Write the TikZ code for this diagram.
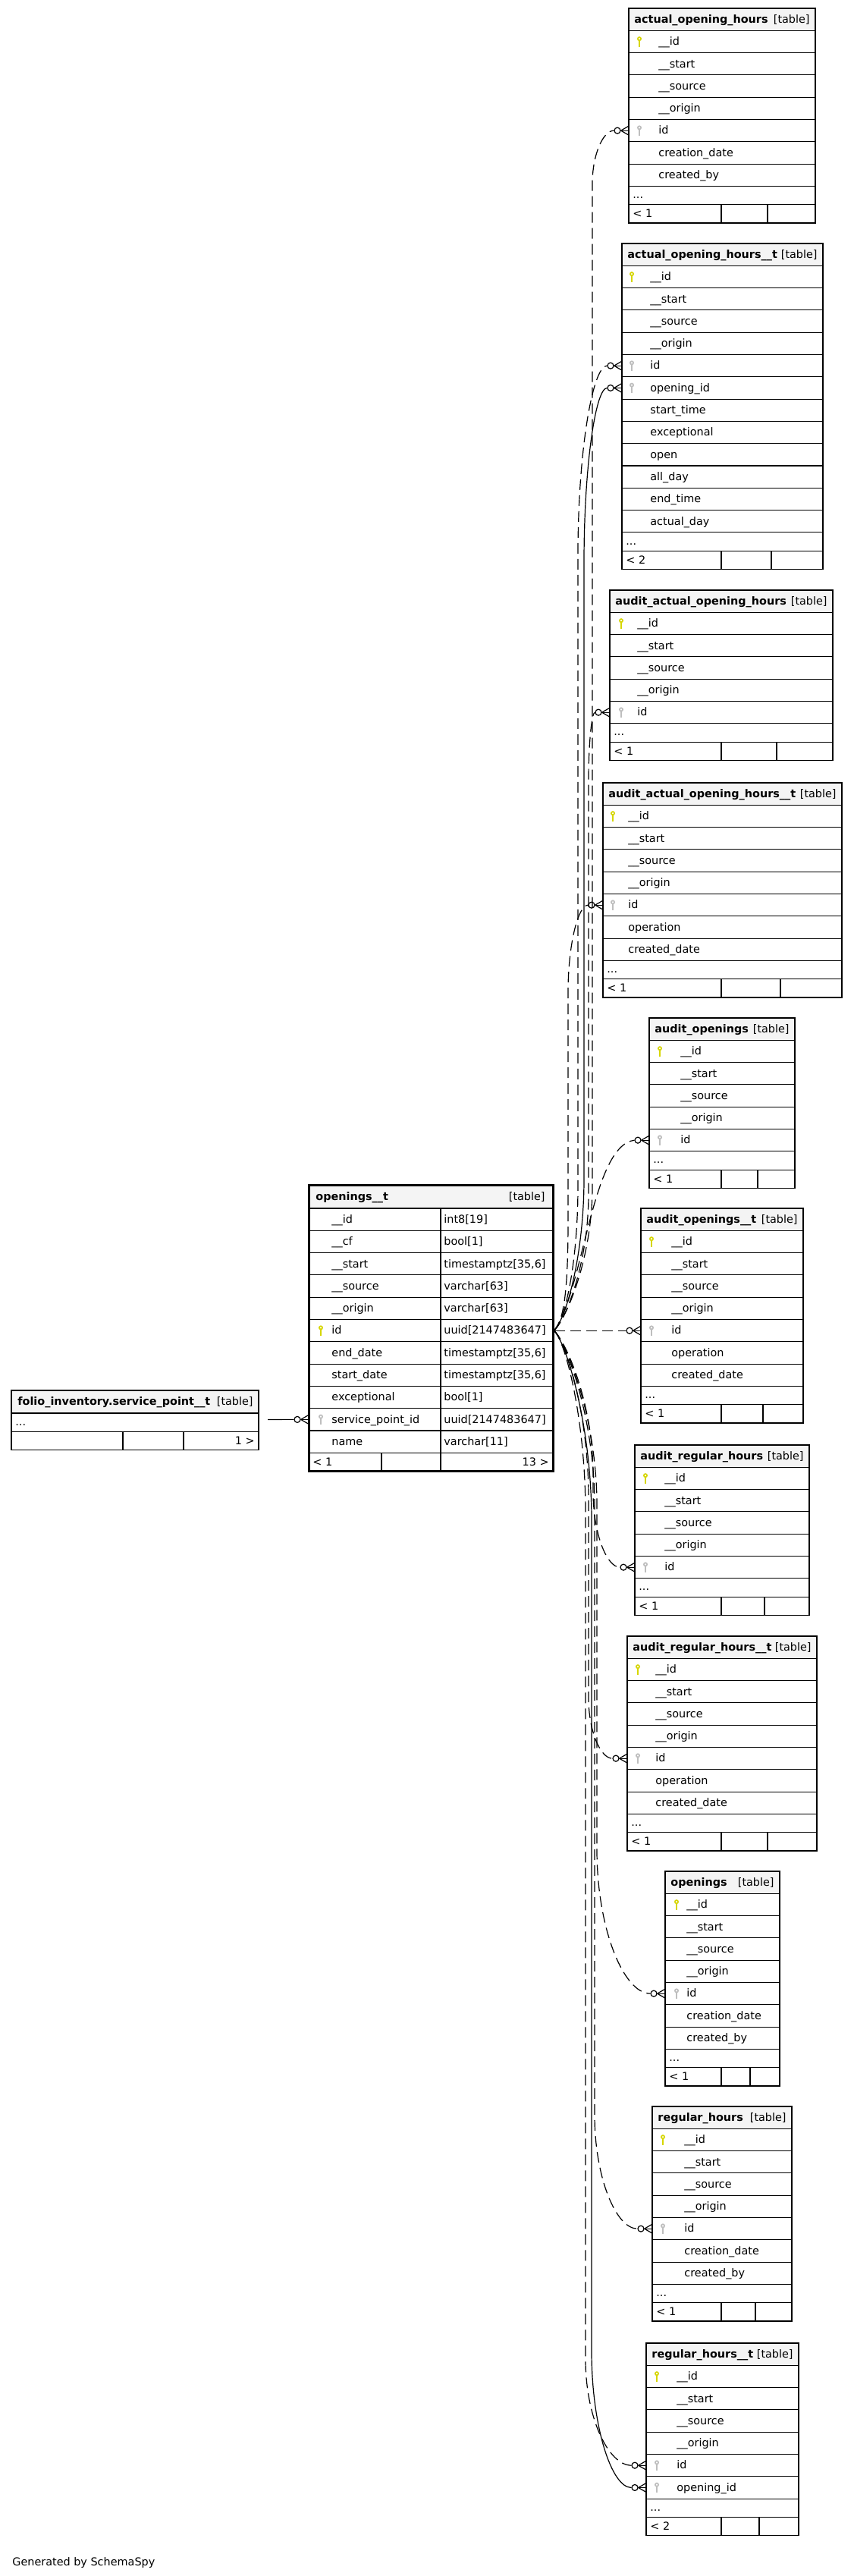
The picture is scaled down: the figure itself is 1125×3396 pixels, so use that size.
\documentclass[tikz,border=0pt]{standalone}
\usepackage{fontspec}
\setmainfont{DejaVu Sans}
\usetikzlibrary{calc}
\definecolor{hdrgray}{RGB}{244,244,244}
\definecolor{keyyellow}{RGB}{214,214,0}
\definecolor{keygray}{RGB}{190,190,190}
\newcommand\fs{\fontsize{7.2}{8.6}\selectfont}
\tikzset{
 cell/.style={draw=black, line width=0.55pt, fill=white, inner sep=0pt, outer sep=0pt, anchor=north west, minimum height=14.65pt},
 hdr/.style={cell, fill=hdrgray},
 dotrow/.style={cell, minimum height=12.15pt},
 txt/.style={inner sep=0pt, anchor=base west, font=\fs},
 ttl/.style={inner sep=0pt, anchor=base west, font=\fs\bfseries},
 edgeline/.style={line width=0.6pt, black},
 fk/.style={edgeline, dash pattern=on 7pt off 3.5pt},
 endc/.style={circle, draw=black, fill=white, line width=0.6pt, minimum size=4pt, inner sep=0pt},
}
\newcommand\drawkey[3]{%
 \draw[#1, line width=0.85pt] ($(#2.west)+(#3,-3.8)$) circle (1.05pt);
 \draw[#1, line width=1.0pt] ($(#2.west)+(#3,-1.6)$) -- ($(#2.west)+(#3,7)$);
}
\newcommand\keyicon[3]{%
 \if p#1\drawkey{keyyellow}{#2}{#3}\fi
 \if f#1\drawkey{keygray}{#2}{#3}\fi}
% prefix, left, top, width, key offset, text offset, title, rows
\newcommand\dbtable[8]{%
 \node[hdr, minimum width={#4*0.5pt}] (#1-h) at (#2,#3) {};
 \node[ttl] (#1-ht) at ($(#1-h.west)+(7,4.8)$) {#7};
 \node[txt, anchor=base east] (#1-hl) at ($(#1-h.east)+(-7,4.8)$) {[table]};
 \foreach \kk/\tname [count=\i] in {#8} {%
   \node[cell, minimum width={#4*0.5pt}] (#1-r\i) at (#2,{#3+29.3*\i}) {};
   \node[txt] (#1-t\i) at ($(#1-r\i.west)+(#6,4.8)$) {\tname};
   \keyicon{\kk}{#1-r\i}{#5}%
 }%
}
% prefix, left, dots top, right, s1, s2, left text, right text
\newcommand\dbfoot[8]{%
 \node[dotrow, minimum width={(#4-#2)*0.5pt}] (#1-d) at (#2,#3) {};
 \node[txt] (#1-dt) at ($(#1-d.west)+(5,4)$) {...};
 \node[dotrow, minimum width={(#5-#2)*0.5pt}] (#1-f1) at (#2,{#3+24.3}) {};
 \node[dotrow, minimum width={(#6-#5)*0.5pt}] (#1-f2) at (#5,{#3+24.3}) {};
 \node[dotrow, minimum width={(#4-#6)*0.5pt}] (#1-f3) at (#6,{#3+24.3}) {};
 \node[txt] (#1-fl) at ($(#1-f1.west)+(5,4.8)$) {#7};
 \node[txt, anchor=base east] (#1-fr) at ($(#1-f3.east)+(-5,4.8)$) {#8};
}
\newcommand\fkmark[2]{% circle name, row node
 \node[endc] (#1) at ($(#2.west)+(-15,0)$) {};
 \draw[edgeline] (#1.east) -- ($(#2.west)+(0,-6)$);
 \draw[edgeline] (#1.east) -- (#2.west);
 \draw[edgeline] (#1.east) -- ($(#2.west)+(0,6)$);
}
% style, circle, cx, ty, dir, L, B
\newcommand\fan[7]{%
 \draw[#1] (src) .. controls +(16,{16*#5}) and +(0,{-0.5*#7*#5}) .. (#3,{1754.15+#7*#5})
   -- (#3,{#4-#6*#5}) .. controls +(0,{0.55*#6*#5}) and ($(#2.west)!0.5!(#3,#4)$) .. (#2.west);
}
\begin{document}
\begin{tikzpicture}[x=0.5pt,y=-0.5pt]
\fill[white] (0,0) rectangle (1125,3396);
\useasboundingbox (0,0) rectangle (1125,3396);

\dbtable{a1}{829}{11}{246}{14}{39}{actual\_opening\_hours}{p/\_\_id,n/\_\_start,n/\_\_source,n/\_\_origin,f/id,n/creation\_date,n/created\_by}
\dbfoot{a1}{829}{245.4}{1075}{951}{1012}{< 1}{}

\dbtable{a2}{820}{321}{265}{13}{37}{actual\_opening\_hours\_\_t}{p/\_\_id,n/\_\_start,n/\_\_source,n/\_\_origin,f/id,f/opening\_id,n/start\_time,n/exceptional,n/open,n/all\_day,n/end\_time,n/actual\_day}
\dbfoot{a2}{820}{701.9}{1085}{951}{1017}{< 2}{}

\dbtable{a3}{804}{778}{294}{15}{36}{audit\_actual\_opening\_hours}{p/\_\_id,n/\_\_start,n/\_\_source,n/\_\_origin,f/id}
\dbfoot{a3}{804}{953.8}{1098}{951}{1024}{< 1}{}

\dbtable{a4}{795}{1032}{315}{13}{33}{audit\_actual\_opening\_hours\_\_t}{p/\_\_id,n/\_\_start,n/\_\_source,n/\_\_origin,f/id,n/operation,n/created\_date}
\dbfoot{a4}{795}{1266.4}{1110}{951}{1029}{< 1}{}

\dbtable{a5}{856}{1342}{192}{14}{41}{audit\_openings}{p/\_\_id,n/\_\_start,n/\_\_source,n/\_\_origin,f/id}
\dbfoot{a5}{856}{1517.8}{1048}{951}{999}{< 1}{}

\dbtable{a6}{845}{1593}{214}{14}{40}{audit\_openings\_\_t}{p/\_\_id,n/\_\_start,n/\_\_source,n/\_\_origin,f/id,n/operation,n/created\_date}
\dbfoot{a6}{845}{1827.4}{1059}{951}{1006}{< 1}{}

\dbtable{a7}{837}{1905}{230}{14}{39}{audit\_regular\_hours}{p/\_\_id,n/\_\_start,n/\_\_source,n/\_\_origin,f/id}
\dbfoot{a7}{837}{2080.8}{1067}{951}{1008}{< 1}{}

\dbtable{a8}{827}{2157}{250}{14}{37}{audit\_regular\_hours\_\_t}{p/\_\_id,n/\_\_start,n/\_\_source,n/\_\_origin,f/id,n/operation,n/created\_date}
\dbfoot{a8}{827}{2391.4}{1077}{951}{1012}{< 1}{}

\dbtable{a9}{877}{2467}{151}{15}{28}{openings}{p/\_\_id,n/\_\_start,n/\_\_source,n/\_\_origin,f/id,n/creation\_date,n/created\_by}
\dbfoot{a9}{877}{2701.4}{1028}{951}{989}{< 1}{}

\dbtable{a10}{860}{2777}{184}{14}{42}{regular\_hours}{p/\_\_id,n/\_\_start,n/\_\_source,n/\_\_origin,f/id,n/creation\_date,n/created\_by}
\dbfoot{a10}{860}{3011.4}{1044}{951}{996}{< 1}{}

\dbtable{a11}{852}{3089}{201}{14}{40}{regular\_hours\_\_t}{p/\_\_id,n/\_\_start,n/\_\_source,n/\_\_origin,f/id,f/opening\_id}
\dbfoot{a11}{852}{3294.1}{1053}{951}{1001}{< 2}{}

% central table openings__t
\node[hdr, minimum width=161pt, minimum height=15.5pt] (ot-h) at (407,1562) {};
\node[ttl] (ot-ht) at ($(ot-h.west)+(9,4.8)$) {openings\_\_t};
\node[txt, anchor=base east] (ot-hl) at ($(ot-h.east)+(-10,4.8)$) {[table]};
\foreach \kk/\nm/\ty [count=\i] in {n/\_\_id/int8[19],n/\_\_cf/bool[1],n/\_\_start/{timestamptz[35,6]},n/\_\_source/varchar[63],n/\_\_origin/varchar[63],p/id/uuid[2147483647],n/end\_date/{timestamptz[35,6]},n/start\_date/{timestamptz[35,6]},n/exceptional/bool[1],f/service\_point\_id/uuid[2147483647],n/name/varchar[11]} {%
  \node[cell, minimum width=87pt] (ot-n\i) at (407,{1593+29.3*(\i-1)}) {};
  \node[cell, minimum width=74pt] (ot-y\i) at (581,{1593+29.3*(\i-1)}) {};
  \node[txt] (ot-tn\i) at ($(ot-n\i.west)+(30,4.8)$) {\nm};
  \node[txt] (ot-ty\i) at ($(ot-y\i.west)+(4,4.8)$) {\ty};
  \keyicon{\kk}{ot-n\i}{16}%
}
\node[dotrow, minimum width=48pt] (ot-f1) at (407,1915.3) {};
\node[dotrow, minimum width=39pt] (ot-f2) at (503,1915.3) {};
\node[dotrow, minimum width=74pt] (ot-f3) at (581,1915.3) {};
\node[txt] (ot-fl) at ($(ot-f1.west)+(5,4.8)$) {< 1};
\node[txt, anchor=base east] (ot-fr) at ($(ot-f3.east)+(-5,4.8)$) {13 >};
\draw[line width=1.5pt] (ot-h.north west) rectangle (ot-f3.south east);

% service point table
\node[hdr, minimum width=163pt, minimum height=15pt] (sp-h) at (15,1833) {};
\node[ttl] (sp-ht) at ($(sp-h.west)+(8,4.8)$) {folio\_inventory.service\_point\_\_t};
\node[txt, anchor=base east] (sp-hl) at ($(sp-h.east)+(-7,4.8)$) {[table]};
\dbfoot{sp}{15}{1863}{341}{162}{242}{}{1 >}

% end marks
\fkmark{c1}{a1-r5}
\fkmark{c2}{a2-r5}
\fkmark{c3}{a2-r6}
\fkmark{c4}{a3-r5}
\fkmark{c5}{a4-r5}
\fkmark{c6}{a5-r5}
\fkmark{c7}{a6-r5}
\fkmark{c8}{a7-r5}
\fkmark{c9}{a8-r5}
\fkmark{c10}{a9-r5}
\fkmark{c11}{a10-r5}
\fkmark{c12}{a11-r5}
\fkmark{c13}{a11-r6}
\fkmark{csp}{ot-n10}

% connectors
\coordinate (src) at ([xshift=0.8pt]ot-y6.east);
\fan{fk}{c1}{781}{172.15}{-1}{70}{190}
\fan{fk}{c2}{762}{482.15}{-1}{250}{190}
\fan{edgeline}{c3}{770}{511.45}{-1}{230}{200}
\fan{fk}{c4}{776}{939.15}{-1}{90}{180}
\fan{fk}{c5}{749}{1193.15}{-1}{115}{150}
\draw[fk] (src) .. controls (770,1700) and (780,1510) .. (c6.west);
\draw[fk] (src) -- (c7.west);
\fan{fk}{c8}{782}{2066.15}{1}{100}{190}
\fan{fk}{c9}{776}{2318.15}{1}{80}{220}
\fan{fk}{c10}{787}{2628.15}{1}{190}{230}
\fan{fk}{c11}{784}{2938.15}{1}{150}{230}
\fan{fk}{c12}{772}{3250.15}{1}{140}{240}
\fan{edgeline}{c13}{780}{3279.45}{1}{180}{250}
\coordinate (sps) at (353,1871.4);
\draw[edgeline] (sps) -- (csp.west);

\node[txt] (gen) at (16,3382) {Generated by SchemaSpy};
\end{tikzpicture}
\end{document}
